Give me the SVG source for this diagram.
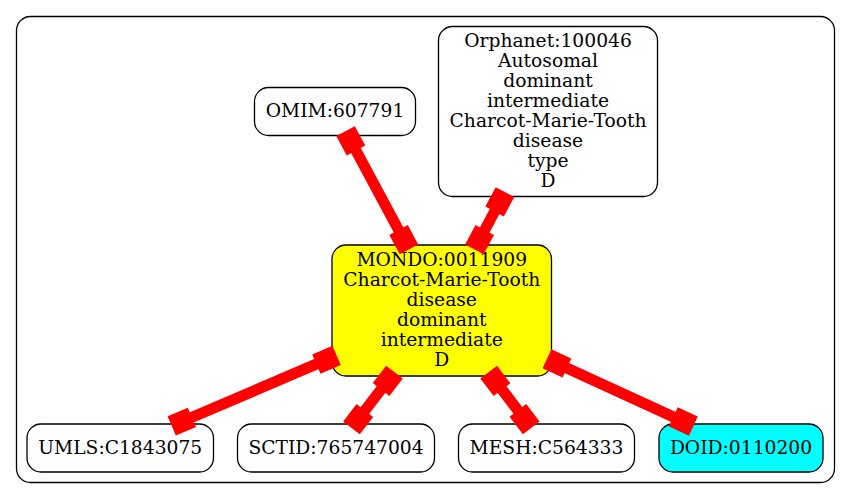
<svg xmlns="http://www.w3.org/2000/svg" width="851" height="499" viewBox="0 0 851 499">
<style>
.n{fill:#fff;stroke:#000;stroke-width:1.3}
text{font-family:"DejaVu Serif","Liberation Serif",serif;font-size:18.7px;text-anchor:middle;fill:#000}
.e{stroke:#f00;stroke-width:11;fill:none}
.b{fill:#f00}
</style>
<rect x="16.5" y="16.5" width="818" height="466" rx="14" fill="#fff" stroke="#000" stroke-width="1.3"/>
<g id="OMIM">
<rect class="n" x="254.5" y="87.5" width="161" height="48" rx="14"/>
<text x="335" y="117">OMIM:607791</text>
</g>
<g id="Orphanet">
<rect class="n" x="438.5" y="26.5" width="219" height="170" rx="14"/>
<text x="548" y="47">Orphanet:100046</text>
<text x="548" y="67">Autosomal</text>
<text x="548" y="87">dominant</text>
<text x="548" y="107">intermediate</text>
<text x="548" y="127">Charcot-Marie-Tooth</text>
<text x="548" y="147">disease</text>
<text x="548" y="167">type</text>
<text x="548" y="187">D</text>
</g>
<g id="MONDO">
<rect class="n" x="332" y="245" width="219.5" height="131" rx="14" style="fill:#ff0"/>
<text x="441.75" y="266">MONDO:0011909</text>
<text x="441.75" y="286">Charcot-Marie-Tooth</text>
<text x="441.75" y="306">disease</text>
<text x="441.75" y="326">dominant</text>
<text x="441.75" y="346">intermediate</text>
<text x="441.75" y="366">D</text>
</g>
<g id="UMLS">
<rect class="n" x="27" y="424" width="186.5" height="48" rx="14"/>
<text x="120.25" y="453.5">UMLS:C1843075</text>
</g>
<g id="SCTID">
<rect class="n" x="237.5" y="424" width="197" height="48" rx="14"/>
<text x="336" y="453.5">SCTID:765747004</text>
</g>
<g id="MESH">
<rect class="n" x="458.5" y="424" width="176" height="48" rx="14"/>
<text x="546.5" y="453.5">MESH:C564333</text>
</g>
<g id="DOID">
<rect class="n" x="659" y="424" width="164" height="48" rx="14" style="fill:#0ff"/>
<text x="741" y="453.5">DOID:0110200</text>
</g>
<g id="edges">
<line class="e" x1="406.6" y1="245" x2="347.9" y2="135.5"/>
<rect class="b" x="-5" y="-10.5" width="22" height="21" transform="translate(406.6,245) rotate(-118.2)"/>
<rect class="b" x="-5" y="-10.5" width="22" height="21" transform="translate(347.9,135.5) rotate(61.8)"/>
<line class="e" x1="476.7" y1="245" x2="502.6" y2="196.5"/>
<rect class="b" x="-5" y="-10.5" width="22" height="21" transform="translate(476.7,245) rotate(-61.9)"/>
<rect class="b" x="-5" y="-10.5" width="22" height="21" transform="translate(502.6,196.5) rotate(118.1)"/>
<line class="e" x1="332" y1="357.4" x2="176.3" y2="424"/>
<rect class="b" x="-5" y="-10.5" width="22" height="21" transform="translate(332,357.4) rotate(156.85)"/>
<rect class="b" x="-5" y="-10.5" width="22" height="21" transform="translate(176.3,424) rotate(-23.15)"/>
<line class="e" x1="391.4" y1="376" x2="354.5" y2="424"/>
<rect class="b" x="-5" y="-10.5" width="22" height="21" transform="translate(391.4,376) rotate(127.6)"/>
<rect class="b" x="-5" y="-10.5" width="22" height="21" transform="translate(354.5,424) rotate(-52.4)"/>
<line class="e" x1="491.7" y1="376" x2="528.2" y2="424"/>
<rect class="b" x="-5" y="-10.5" width="22" height="21" transform="translate(491.7,376) rotate(52.7)"/>
<rect class="b" x="-5" y="-10.5" width="22" height="21" transform="translate(528.2,424) rotate(-127.3)"/>
<line class="e" x1="551.5" y1="360.9" x2="688.8" y2="424"/>
<rect class="b" x="-5" y="-10.5" width="22" height="21" transform="translate(551.5,360.9) rotate(24.7)"/>
<rect class="b" x="-5" y="-10.5" width="22" height="21" transform="translate(688.8,424) rotate(-155.3)"/>
</g>
</svg>
